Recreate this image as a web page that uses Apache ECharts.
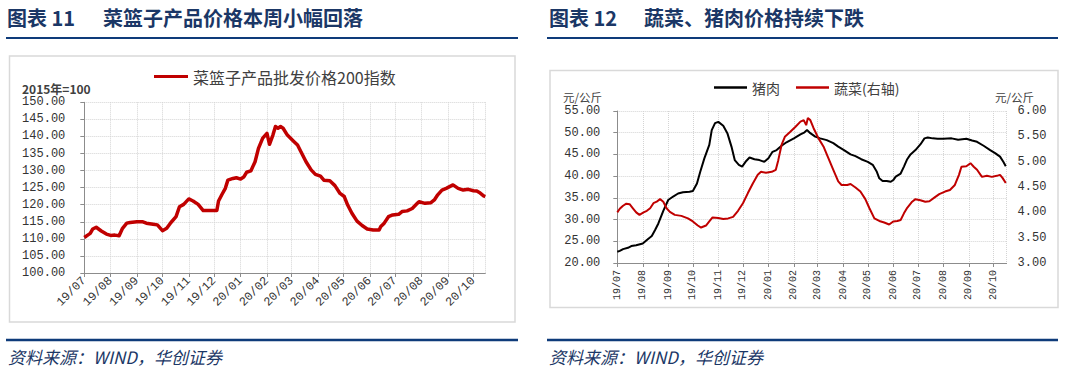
<!DOCTYPE html>
<html>
<head>
<meta charset="utf-8">
<script src="https://cdn.jsdelivr.net/npm/echarts@6/dist/echarts.min.js"></script>
<style>
html,body{margin:0;padding:0;background:#fff;}
#c{width:1076px;height:372px;}
</style>
</head>
<body>
<div id="c"></div>
<script>
// ---------- Left chart: 菜篮子产品批发价格200指数 ----------
const leftSeriesName = '菜篮子产品批发价格200指数';
const leftDates = ['2019-07-01','2019-07-05','2019-07-08','2019-07-11','2019-07-15','2019-07-21','2019-07-27','2019-08-01','2019-08-06','2019-08-11','2019-08-15','2019-08-20','2019-08-24','2019-09-01','2019-09-08','2019-09-12','2019-09-20','2019-09-25','2019-10-01','2019-10-06','2019-10-11','2019-10-17','2019-10-21','2019-10-26','2019-11-01','2019-11-06','2019-11-12','2019-11-18','2019-11-24','2019-12-04','2019-12-06','2019-12-10','2019-12-14','2019-12-17','2019-12-23','2019-12-27','2020-01-01','2020-01-05','2020-01-08','2020-01-13','2020-01-18','2020-01-22','2020-01-27','2020-02-01','2020-02-04','2020-02-08','2020-02-11','2020-02-14','2020-02-17','2020-02-20','2020-02-25','2020-03-03','2020-03-08','2020-03-12','2020-03-18','2020-03-24','2020-03-29','2020-04-04','2020-04-08','2020-04-15','2020-04-21','2020-04-27','2020-05-02','2020-05-06','2020-05-11','2020-05-17','2020-05-23','2020-05-29','2020-06-05','2020-06-12','2020-06-14','2020-06-18','2020-06-23','2020-06-28','2020-07-05','2020-07-09','2020-07-15','2020-07-21','2020-07-27','2020-07-29','2020-08-05','2020-08-12','2020-08-16','2020-08-20','2020-08-25','2020-08-30','2020-09-07','2020-09-13','2020-09-19','2020-09-25','2020-10-01','2020-10-05','2020-10-09','2020-10-13','2020-10-15'];
const leftValues = [110.4,111.1,111.6,112.9,113.4,112.3,111.4,111.0,111.1,110.9,113.1,114.6,114.8,115.0,115.0,114.6,114.3,114.1,112.4,113.1,114.8,116.5,119.4,120.1,121.7,121.1,120.1,118.3,118.3,118.3,121.1,123.0,124.8,127.2,127.7,127.9,127.5,128.2,129.5,129.9,132.6,136.5,139.5,140.9,137.7,140.4,142.9,142.4,142.9,142.4,140.4,138.7,137.5,135.5,132.6,130.2,128.9,128.4,127.2,127.0,125.6,123.3,122.4,119.9,117.5,115.2,113.9,112.9,112.6,112.6,113.6,114.6,116.5,117.0,117.2,118.0,118.2,118.9,120.4,120.9,120.4,120.6,121.4,122.9,124.3,124.8,125.8,124.8,124.3,124.5,124.1,124.0,123.4,122.6,122.4];

// ---------- Right chart: 猪肉 / 蔬菜 ----------
const porkName = '猪肉';
const vegName = '蔬菜(右轴)';
const porkDates = ['2019-07-01','2019-07-04','2019-07-08','2019-07-14','2019-07-18','2019-07-24','2019-08-01','2019-08-06','2019-08-12','2019-08-16','2019-08-20','2019-08-26','2019-09-01','2019-09-07','2019-09-13','2019-09-19','2019-09-27','2019-10-01','2019-10-06','2019-10-10','2019-10-15','2019-10-21','2019-10-24','2019-10-28','2019-11-01','2019-11-07','2019-11-12','2019-11-17','2019-11-21','2019-11-26','2019-11-30','2019-12-05','2019-12-09','2019-12-15','2019-12-21','2019-12-27','2020-01-01','2020-01-06','2020-01-11','2020-01-17','2020-01-23','2020-02-01','2020-02-09','2020-02-14','2020-02-17','2020-02-21','2020-02-27','2020-03-04','2020-03-12','2020-03-20','2020-03-26','2020-04-02','2020-04-10','2020-04-16','2020-04-23','2020-05-01','2020-05-07','2020-05-12','2020-05-15','2020-05-19','2020-05-24','2020-05-29','2020-06-01','2020-06-04','2020-06-10','2020-06-14','2020-06-18','2020-06-22','2020-06-28','2020-07-04','2020-07-09','2020-07-13','2020-07-19','2020-07-25','2020-08-01','2020-08-11','2020-08-19','2020-08-29','2020-09-05','2020-09-11','2020-09-19','2020-09-27','2020-10-03','2020-10-09','2020-10-13','2020-10-16'];
const porkValues = [22.6,22.8,23.2,23.5,23.9,24.1,24.5,25.3,26.2,27.6,29.1,32.0,34.5,35.3,36.0,36.3,36.4,36.6,38.3,41.0,44.1,47.2,50.6,52.2,52.5,51.6,49.9,46.8,43.7,42.6,42.2,43.5,44.3,43.9,43.7,43.3,44.1,45.6,46.0,47.0,47.8,48.7,49.6,50.1,50.6,49.9,49.1,48.7,48.3,47.6,46.8,46.0,45.0,44.6,43.9,43.3,42.6,41.0,39.5,38.9,38.9,38.7,39.1,39.9,40.6,42.2,43.9,45.0,46.0,47.3,48.7,48.9,48.7,48.6,48.6,48.7,48.4,48.6,48.2,47.9,47.0,46.0,45.3,44.5,43.3,42.3];
const vegDates = ['2019-07-01','2019-07-04','2019-07-08','2019-07-12','2019-07-16','2019-07-20','2019-07-24','2019-07-28','2019-08-02','2019-08-06','2019-08-10','2019-08-14','2019-08-18','2019-08-22','2019-08-26','2019-08-30','2019-09-03','2019-09-09','2019-09-17','2019-09-25','2019-10-01','2019-10-07','2019-10-11','2019-10-17','2019-10-21','2019-10-25','2019-11-01','2019-11-07','2019-11-13','2019-11-19','2019-11-25','2019-12-01','2019-12-07','2019-12-13','2019-12-19','2019-12-23','2019-12-29','2020-01-05','2020-01-10','2020-01-13','2020-01-17','2020-01-21','2020-01-27','2020-02-03','2020-02-09','2020-02-13','2020-02-16','2020-02-18','2020-02-21','2020-02-25','2020-03-02','2020-03-08','2020-03-14','2020-03-20','2020-03-26','2020-03-30','2020-04-06','2020-04-10','2020-04-16','2020-04-22','2020-04-28','2020-05-03','2020-05-09','2020-05-15','2020-05-21','2020-05-27','2020-06-01','2020-06-06','2020-06-10','2020-06-14','2020-06-18','2020-06-24','2020-06-28','2020-07-04','2020-07-10','2020-07-15','2020-07-21','2020-07-27','2020-08-03','2020-08-09','2020-08-15','2020-08-20','2020-08-23','2020-08-29','2020-09-03','2020-09-07','2020-09-11','2020-09-17','2020-09-23','2020-09-29','2020-10-05','2020-10-09','2020-10-12','2020-10-16'];
const vegValues = [4.00,4.07,4.13,4.17,4.16,4.08,4.00,3.95,4.00,4.03,4.08,4.18,4.21,4.26,4.21,4.08,4.01,3.95,3.93,3.88,3.82,3.74,3.70,3.74,3.82,3.90,3.89,3.87,3.88,3.91,4.03,4.18,4.38,4.57,4.74,4.80,4.78,4.80,4.84,5.03,5.33,5.49,5.58,5.69,5.79,5.82,5.72,5.86,5.82,5.66,5.46,5.30,5.07,4.84,4.61,4.54,4.54,4.56,4.49,4.41,4.26,4.08,3.88,3.83,3.80,3.76,3.82,3.83,3.85,3.98,4.09,4.21,4.26,4.24,4.21,4.22,4.29,4.36,4.41,4.44,4.54,4.74,4.90,4.91,4.97,4.90,4.84,4.70,4.72,4.70,4.72,4.74,4.68,4.58];

// ---------- Texts ----------
const leftTitleNo = '图表 11';
const leftTitle = '菜篮子产品价格本周小幅回落';
const rightTitleNo = '图表 12';
const rightTitle = '蔬菜、猪肉价格持续下跌';
const sourceText = '资料来源：WIND，华创证券';
const leftUnit = '2015年=100';
const rightUnit = '元/公斤';

const NAVY = '#1B3766';
const LINE_NAVY = '#0E3B7A';
const AXIS_GREY = '#8c8c8c';
const GRID_GREY = '#d4d4d4';
const LABEL = '#333333';
const MONO = '"Liberation Mono", "DejaVu Sans Mono", monospace';
const CJK = '"Noto Sans CJK SC", "Noto Sans", sans-serif';

function fmtMonth(v) {
  const d = new Date(v);
  const yy = String(d.getFullYear()).slice(2);
  const mm = String(d.getMonth() + 1).padStart(2, '0');
  return yy + '/' + mm;
}
const DAY = 86400000;

function timeAxis(grid, max, rotate, fontSize, margin) {
  return {
    type: 'time', gridIndex: grid,
    min: '2019-07-01', max: max,
    minInterval: 28 * DAY, maxInterval: 31 * DAY, splitNumber: 16,
    axisLine: { show: true, lineStyle: { color: AXIS_GREY, width: 1 } },
    axisTick: { show: true, length: 4, lineStyle: { color: AXIS_GREY } },
    axisLabel: { rotate: rotate, formatter: fmtMonth, fontFamily: MONO, fontSize: fontSize, color: LABEL, margin: margin, hideOverlap: false, showMinLabel: true },
    splitLine: { show: true, lineStyle: { type: 'dotted', color: GRID_GREY, width: 1 } }
  };
}

const chart = echarts.init(document.getElementById('c'), null, { renderer: 'svg', width: 1076, height: 372 });

const option = {
  animation: false,
  backgroundColor: '#ffffff',
  grid: [
    { left: 84.3, right: 1076 - 485.3, top: 102.3, bottom: 372 - 273, containLabel: false },
    { left: 617.3, right: 1076 - 1006.6, top: 111, bottom: 372 - 263, containLabel: false }
  ],
  xAxis: [
    timeAxis(0, '2020-10-15', 45, 12, 6),
    timeAxis(1, '2020-10-17', 90, 10, 7)
  ],
  yAxis: [
    {
      type: 'value', gridIndex: 0, min: 100, max: 150, interval: 5,
      axisLine: { show: true, lineStyle: { color: AXIS_GREY } },
      axisTick: { show: true, length: 4, lineStyle: { color: AXIS_GREY } },
      axisLabel: { formatter: v => v.toFixed(2), fontFamily: MONO, fontSize: 12, color: LABEL, margin: 19 },
      splitLine: { show: true, lineStyle: { type: 'dotted', color: GRID_GREY } }
    },
    {
      type: 'value', gridIndex: 1, min: 20, max: 55, interval: 5,
      axisLine: { show: true, lineStyle: { color: AXIS_GREY } },
      axisTick: { show: true, length: 4, lineStyle: { color: AXIS_GREY } },
      axisLabel: { formatter: v => v.toFixed(2), fontFamily: MONO, fontSize: 12, color: LABEL, margin: 17 },
      splitLine: { show: true, lineStyle: { type: 'dotted', color: GRID_GREY } }
    },
    {
      type: 'value', gridIndex: 1, position: 'right', min: 3, max: 6, interval: 0.5,
      axisLine: { show: false }, axisTick: { show: false },
      axisLabel: { formatter: v => v.toFixed(2), fontFamily: MONO, fontSize: 12, color: LABEL, margin: 11 },
      splitLine: { show: false }
    }
  ],
  legend: [
    {
      data: [leftSeriesName], left: 154, top: 68, padding: 0,
      icon: 'rect', itemWidth: 34, itemHeight: 3,
      textStyle: { fontFamily: CJK, fontSize: 16, color: '#404040', lineHeight: 17 }
    },
    {
      data: [porkName, vegName], left: 714, top: 80, padding: 0, itemGap: 16,
      icon: 'rect', itemWidth: 33, itemHeight: 2.5,
      textStyle: { fontFamily: CJK, fontSize: 14, color: '#404040', lineHeight: 15 }
    }
  ],
  series: [
    {
      type: 'line', name: leftSeriesName, xAxisIndex: 0, yAxisIndex: 0,
      data: leftDates.map((d, i) => [d, leftValues[i]]),
      showSymbol: false, symbol: 'none',
      lineStyle: { color: '#C00000', width: 3.5, join: 'round' },
      itemStyle: { color: '#C00000' }
    },
    {
      type: 'line', name: porkName, xAxisIndex: 1, yAxisIndex: 1,
      data: porkDates.map((d, i) => [d, porkValues[i]]),
      showSymbol: false, symbol: 'none',
      lineStyle: { color: '#000000', width: 2 },
      itemStyle: { color: '#000000' }
    },
    {
      type: 'line', name: vegName, xAxisIndex: 1, yAxisIndex: 2,
      data: vegDates.map((d, i) => [d, vegValues[i]]),
      showSymbol: false, symbol: 'none',
      lineStyle: { color: '#C00000', width: 2 },
      itemStyle: { color: '#C00000' }
    }
  ],
  graphic: [
    // titles
    { type: 'text', x: 7, y: 17, style: { text: leftTitleNo, fontFamily: CJK, fontSize: 20, fontWeight: 'bold', fill: NAVY, verticalAlign: 'middle' } },
    { type: 'text', x: 103, y: 17, style: { text: leftTitle, fontFamily: CJK, fontSize: 20, fontWeight: 'bold', fill: NAVY, verticalAlign: 'middle' } },
    { type: 'text', x: 549, y: 17, style: { text: rightTitleNo, fontFamily: CJK, fontSize: 20, fontWeight: 'bold', fill: NAVY, verticalAlign: 'middle' } },
    { type: 'text', x: 644, y: 17, style: { text: rightTitle, fontFamily: CJK, fontSize: 20, fontWeight: 'bold', fill: NAVY, verticalAlign: 'middle' } },
    // title underlines
    { type: 'line', shape: { x1: 6, y1: 38, x2: 518, y2: 38 }, style: { stroke: LINE_NAVY, lineWidth: 2 } },
    { type: 'line', shape: { x1: 547, y1: 38, x2: 1058, y2: 38 }, style: { stroke: LINE_NAVY, lineWidth: 2 } },
    // chart frames
    { type: 'rect', shape: { x: 9.5, y: 56, width: 505.5, height: 266 }, style: { fill: 'none', stroke: '#d9d9d9', lineWidth: 1.5 } },
    { type: 'rect', shape: { x: 550, y: 70.5, width: 508, height: 237 }, style: { fill: 'none', stroke: '#d9d9d9', lineWidth: 1.5 } },
    // unit labels
    { type: 'text', x: 22, y: 88, style: { text: leftUnit, fontFamily: CJK, fontSize: 12, fontWeight: 'bold', fill: '#404040', verticalAlign: 'middle' } },
    { type: 'text', x: 563, y: 96.5, style: { text: rightUnit, fontFamily: CJK, fontSize: 11.5, fill: '#404040', verticalAlign: 'middle' } },
    { type: 'text', x: 995, y: 96.5, style: { text: rightUnit, fontFamily: CJK, fontSize: 11.5, fill: '#404040', verticalAlign: 'middle' } },
    // bottom rules and sources
    { type: 'line', shape: { x1: 6, y1: 340, x2: 518, y2: 340 }, style: { stroke: LINE_NAVY, lineWidth: 2.5 } },
    { type: 'line', shape: { x1: 547, y1: 340, x2: 1058, y2: 340 }, style: { stroke: LINE_NAVY, lineWidth: 2.5 } },
    { type: 'text', x: 8, y: 356, style: { text: sourceText, fontFamily: CJK, fontSize: 17, fontStyle: 'italic', fill: NAVY, verticalAlign: 'middle' } },
    { type: 'text', x: 549, y: 356, style: { text: sourceText, fontFamily: CJK, fontSize: 17, fontStyle: 'italic', fill: NAVY, verticalAlign: 'middle' } }
  ]
};
chart.setOption(option);
</script>
</body>
</html>
